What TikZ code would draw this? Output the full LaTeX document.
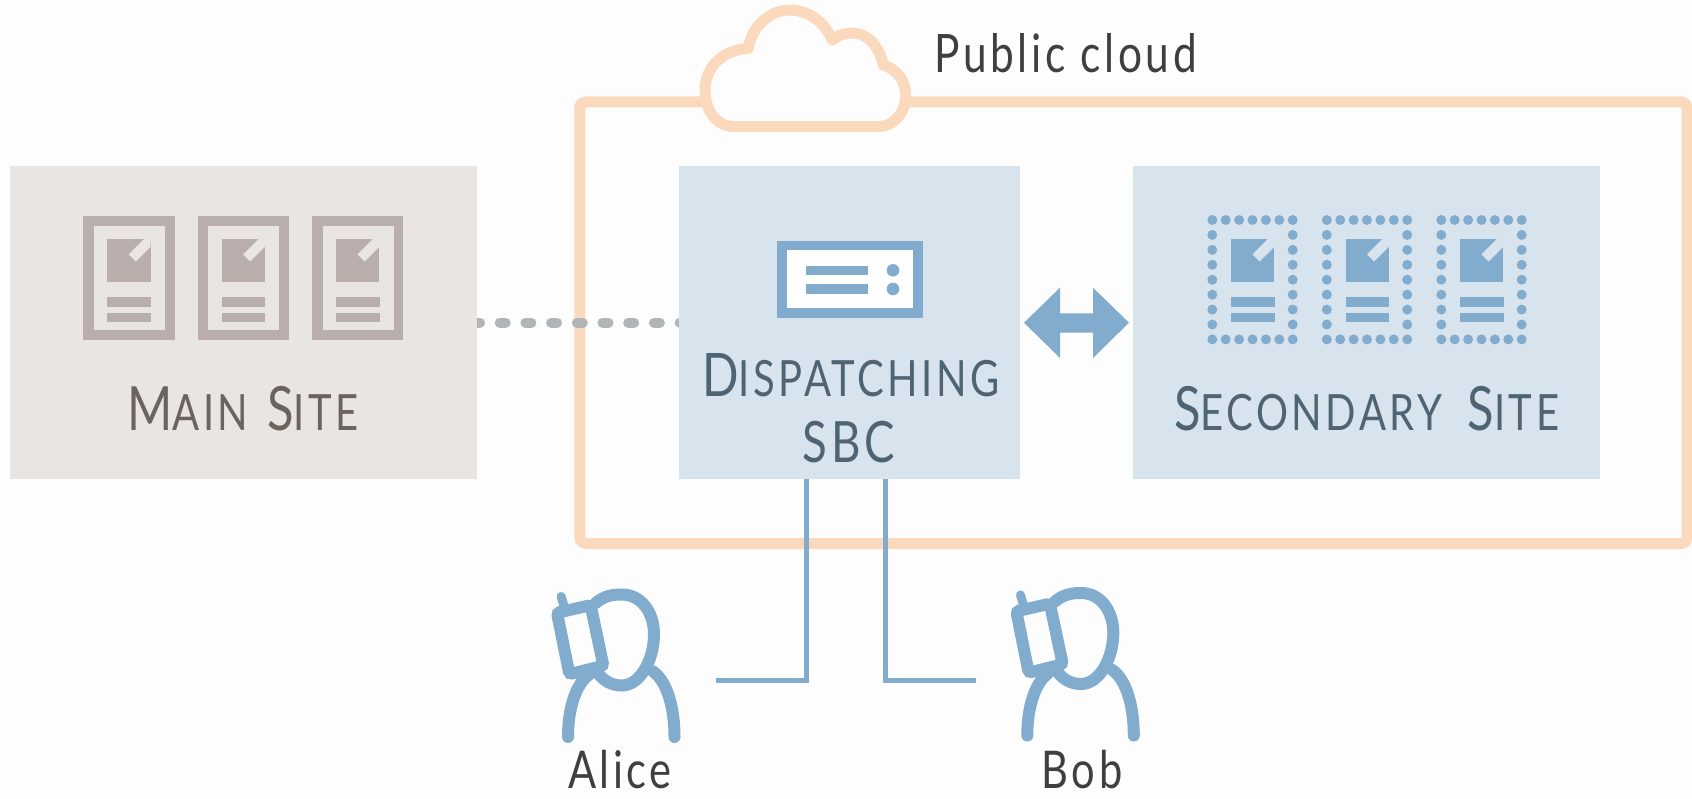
\documentclass[tikz,border=0pt]{standalone}
\usepackage{fontspec}
\setmainfont[FakeStretch=0.8,LetterSpace=7]{Lato}
\definecolor{pagebg}{HTML}{FDFDFD}
\definecolor{orangeline}{HTML}{FBD9BD}
\definecolor{greybox}{HTML}{E9E5E3}
\definecolor{greyicon}{HTML}{B9AEAB}
\definecolor{bluebox}{HTML}{D8E4ED}
\definecolor{blueicon}{HTML}{82ACCE}
\definecolor{greytext}{HTML}{6C625E}
\definecolor{bluetext}{HTML}{4F6473}
\definecolor{darktext}{HTML}{3F3F3F}
\definecolor{dotgrey}{HTML}{B2B5B5}
\newcommand{\capsfont}[1]{\fontsize{#1}{#1}\selectfont}
\tikzset{
  x=1pt,y=-1pt,
  sitebox/.style={minimum width=#1,minimum height=313pt,inner sep=0pt,outer sep=0pt,anchor=north west},
  sitelabel/.style={anchor=base,inner sep=0pt,font=\capsfont{50}},
  plainlabel/.style={anchor=base,inner sep=0pt,text=darktext,font=\capsfont{52}},
  wire/.style={draw=blueicon,line width=5pt,line join=miter},
  docinner/.pic={
    \fill[#1] (0,0) rectangle (43.4,43);
    \fill[#1] (0,58.3) rectangle (43.6,67.7);
    \fill[#1] (0,73.7) rectangle (43.6,83.3);
  },
  docfull/.pic={
    \fill[greyicon] (-24,-23) rectangle (67.4,101);
    \fill[greybox] (-13.5,-13) rectangle (57.5,91);
    \pic at (0,0) {docinner=greyicon};
    \begin{scope}
      \clip (0,0) rectangle (43.4,43);
      \draw[greybox,line width=10pt] (25,19) -- (50,-6);
    \end{scope}
  },
  docdotted/.pic={
    \foreach \i in {0,...,6} \fill[blueicon] (-18.7+13.4*\i,-19) circle (5);
    \foreach \i in {0,...,6} \fill[blueicon] (-18.7+13.4*\i,100.4) circle (5);
    \foreach \i in {1,...,7} {
      \fill[blueicon] (-18.7,-19+14.93*\i) circle (5);
      \fill[blueicon] (61.7,-19+14.93*\i) circle (5);
    }
    \pic at (0,0) {docinner=blueicon};
    \begin{scope}
      \clip (0,0) rectangle (43.4,43);
      \draw[bluebox,line width=10pt] (25,19) -- (50,-6);
    \end{scope}
  },
  person/.pic={
    \begin{scope}[blueicon,line width=12pt,line cap=round]
      \draw (595.7,603) .. controls (604,596) and (612,594.5) .. (621.7,594.5)
            .. controls (641,594.5) and (654,612) .. (654,634.4)
            .. controls (654,660) and (640,685.5) .. (621.7,685.5)
            .. controls (612,685.5) and (604,681) .. (598.7,674.1);
      \draw (588.8,674.8) .. controls (575,685) and (568,710) .. (568,737);
      \draw (653,671.4) .. controls (668,682) and (674.5,710) .. (674.5,737);
      \draw[line width=9pt] (561.2,596.5) -- (564,606);
      \draw[fill=pagebg,rounded corners=3pt]
        (557,612.8) -- (590.6,605.2) -- (603.4,665.8) -- (569.4,674.2) -- cycle;
    \end{scope}
  }
}
\begin{document}
\begin{tikzpicture}
\useasboundingbox (0,0) rectangle (1692,799);
\fill[pagebg] (0,0) rectangle (1692,799);

% public cloud frame
\draw[orangeline,line width=11pt,rounded corners=6pt]
  (579.8,102) rectangle (1687,543.5);
\draw[orangeline,line width=11pt,fill=pagebg,line join=round]
  (735,126.7) -- (876.7,126.7)
  .. controls (895,126.7) and (905.7,112) .. (905.7,95)
  .. controls (905.7,80) and (896,69) .. (883.3,65)
  .. controls (880,48) and (868,33) .. (853,33)
  .. controls (846,33) and (838,35) .. (832,40)
  .. controls (825,22) and (808,10) .. (790,10)
  .. controls (770,10) and (752,26) .. (748.3,48.3)
  .. controls (722,50) and (705,68) .. (705,90)
  .. controls (705,110) and (716,126.7) .. (735,126.7) -- cycle;
\node[plainlabel,anchor=base west,font=\capsfont{53}] (cloudlabel) at (934,73) {Public cloud};

% the dotted link runs under both boxes
\coordinate (mainE) at (477,322.7);
\coordinate (sbcW) at (695,322.7);
\draw[dotgrey,line width=10pt,line cap=round,dash pattern=on 6pt off 19.7pt,dash phase=3pt] (mainE) -- (sbcW);

\node[sitebox=467pt,fill=greybox] (main) at (10,166) {};
\node[sitebox=341pt,fill=bluebox] (sbc) at (679,166) {};
\node[sitebox=467pt,fill=bluebox] (secondary) at (1133,166) {};

% main site icons
\pic at (107.3,239) {docfull};
\pic at (221.6,239) {docfull};
\pic at (336,239) {docfull};
\node[sitelabel,text=greytext] (mainlabel) at (243,431) {{\capsfont{61}M}AIN\hspace{5pt} {\capsfont{61}S}ITE};

% dispatching SBC
\fill[blueicon] (776.7,240.7) rectangle (922.7,318.3);
\fill[white] (786.5,250.5) rectangle (912.9,308.5);
\fill[blueicon] (806,265.7) rectangle (868.3,275);
\fill[blueicon] (806,284.3) rectangle (868.3,294);
\fill[blueicon] (893,270.3) circle (6.3);
\fill[blueicon] (893,289) circle (6.3);
\node[sitelabel,text=bluetext] (sbclabel) at (851,396.7) {{\capsfont{60}D}ISPATCHING};
\node[sitelabel,text=bluetext,font=\capsfont{57}] (sbclabel2) at (849,462.7) {SBC};

% double arrow
\fill[blueicon] (1024,322.7) -- (1060,287.7) -- (1060,313.3) -- (1093,313.3) -- (1093,287.7)
  -- (1129,322.7) -- (1093,358) -- (1093,332.7) -- (1060,332.7) -- (1060,358) -- cycle;

% secondary site icons
\pic at (1231,239) {docdotted};
\pic at (1345.5,239) {docdotted};
\pic at (1460,239) {docdotted};
\node[sitelabel,text=bluetext] (secondarylabel) at (1366.7,430.7) {{\capsfont{61}S}ECONDARY\hspace{12pt} {\capsfont{61}S}ITE};

% connectors to the callers
\coordinate (alicewire) at (715.5,680);
\coordinate (bobwire) at (975.7,680);
\coordinate (sbcA) at (806.2,479);
\coordinate (sbcB) at (885.4,479);
\draw[wire] (sbcA) |- (alicewire);
\draw[wire] (sbcB) |- (bobwire);

% callers
\pic at (0,0) {person};
\pic at (459.3,-1.5) {person};
\node[plainlabel] (alice) at (620,788) {Alice};
\node[plainlabel] (bob) at (1082,788) {Bob};
\end{tikzpicture}
\end{document}
